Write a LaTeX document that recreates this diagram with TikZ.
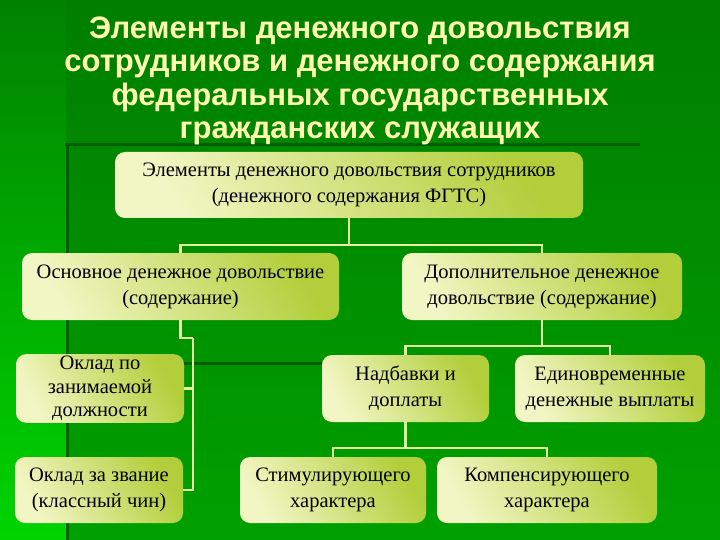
\documentclass[tikz,border=0pt]{standalone}
\usepackage{fontspec}
\setmainfont{Liberation Serif}
\newfontfamily\titlefont{Liberation Sans}
\definecolor{bgtop}{RGB}{0,126,0}
\definecolor{bgbot}{RGB}{0,160,0}
\definecolor{striptop}{RGB}{0,130,0}
\definecolor{stripbot}{RGB}{0,212,0}
\definecolor{darkline}{RGB}{0,92,0}
\definecolor{titlecol}{RGB}{255,255,178}
\definecolor{boxA}{RGB}{242,246,196}
\definecolor{boxM}{RGB}{226,236,160}
\definecolor{boxB}{RGB}{178,206,58}
\definecolor{linkcol}{RGB}{226,242,160}
\tikzset{
  card/.style={rounded corners=10pt, left color=boxA, middle color=boxM, right color=boxB, shading angle=120,
    align=center, inner sep=2pt, font=\fontsize{20.5}{26}\selectfont, text=black},
  link/.style={draw=linkcol, line width=2.6pt},
  deco/.style={draw=darkline, line width=3pt}
}
\begin{document}
\begin{tikzpicture}[x=1pt,y=-1pt]
\useasboundingbox (0,0) rectangle (720,540);
% background
\shade[top color=bgtop, bottom color=bgbot] (0,0) rectangle (720,540);
\shade[top color=striptop, bottom color=stripbot] (0,0) rectangle (66,540);
\draw[deco] (67,145) -- (67,540);
\draw[deco] (65,145) -- (640,145);
\draw[deco] (66,363) -- (322,363);
% title
\node (title) [text=titlecol, align=center, font=\titlefont\bfseries\fontsize{31}{33.3}\selectfont] at (360,81)
  {Элементы денежного довольствия\\сотрудников и денежного содержания\\федеральных государственных\\гражданских служащих};
% boxes
\node (top)  [card, minimum width=468pt, minimum height=66pt] at (349,185)
  {Элементы денежного довольствия сотрудников\\(денежного содержания ФГТС)};
\node (base) [card, minimum width=317pt, minimum height=67pt] at (180.5,286.5)
  {Основное денежное довольствие\\(содержание)};
\node (add)  [card, minimum width=280pt, minimum height=67pt] at (542,286.5)
  {Дополнительное денежное\\довольствие (содержание)};
\node (okl1) [card, minimum width=168pt, minimum height=67pt, font=\fontsize{20.5}{23.5}\selectfont] at (100,388.5)
  {Оклад по\\занимаемой\\должности};
\node (okl2) [card, minimum width=168pt, minimum height=66pt] at (99,490)
  {Оклад за звание\\(классный чин)};
\node (nadb) [card, minimum width=167pt, minimum height=67pt] at (405.5,388.5)
  {Надбавки и\\доплаты};
\node (edin) [card, minimum width=190pt, minimum height=67pt] at (610,388.5)
  {Единовременные\\денежные выплаты};
\node (stim) [card, minimum width=186pt, minimum height=66pt] at (333,490)
  {Стимулирующего\\характера};
\node (komp) [card, minimum width=220pt, minimum height=66pt] at (547,490)
  {Компенсирующего\\характера};
% connectors
\coordinate (j1) at (349,245);
\draw[link] (top.south) -- (j1);
\draw[link] (j1) -| (base.north);
\draw[link] (j1) -| (add.north);
\coordinate (lb) at (193,338);
\draw[link] (base.south) |- (lb);
\draw[link] (lb) |- (okl1.east);
\draw[link] (lb) |- (okl2.east);
\coordinate (j2) at (542,346);
\draw[link] (add.south) -- (j2);
\draw[link] (j2) -| (nadb.north);
\draw[link] (j2) -| (edin.north);
\coordinate (j3) at (405.5,448);
\draw[link] (nadb.south) -- (j3);
\draw[link] (j3) -| (stim.north);
\draw[link] (j3) -| (komp.north);
\end{tikzpicture}
\end{document}
